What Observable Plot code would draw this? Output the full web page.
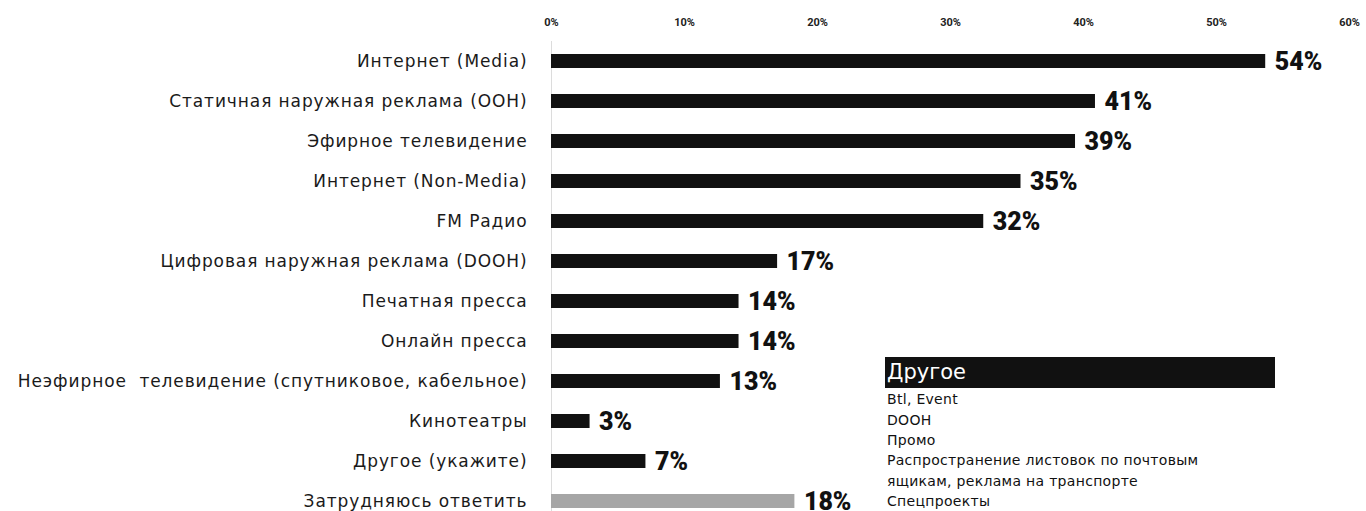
<!DOCTYPE html>
<html>
<head>
<meta charset="utf-8">
<script src="https://cdn.jsdelivr.net/npm/d3@7"></script>
<script src="https://cdn.jsdelivr.net/npm/@observablehq/plot@0.6"></script>
<style>
  html, body { margin: 0; padding: 0; background: #fff; }
  #wrap { position: relative; width: 1366px; height: 511px; overflow: hidden; }
  #note { position: absolute; left: 885px; top: 357px; width: 390px; font-family: "DejaVu Sans", sans-serif; color: #111; }
  #note .head { background: #111; color: #fff; font-size: 21px; line-height: 31px; height: 31px; padding-left: 2px; }
  #note .item { font-size: 14px; letter-spacing: 0.3px; padding-left: 2px; white-space: nowrap; }
</style>
</head>
<body>
<div id="wrap"></div>
<script>
const categories = [
  "Интернет (Media)",
  "Статичная наружная реклама (OOH)",
  "Эфирное телевидение",
  "Интернет (Non-Media)",
  "FM Радио",
  "Цифровая наружная реклама (DOOH)",
  "Печатная пресса",
  "Онлайн пресса",
  "Неэфирное  телевидение (спутниковое, кабельное)",
  "Кинотеатры",
  "Другое (укажите)",
  "Затрудняюсь ответить"
];
const values = [53.7, 40.9, 39.4, 35.3, 32.5, 17.0, 14.1, 14.1, 12.7, 2.9, 7.1, 18.3];
const valueLabels = ["54%", "41%", "39%", "35%", "32%", "17%", "14%", "14%", "13%", "3%", "7%", "18%"];
const unsureCategory = "Затрудняюсь ответить";
const xTicks = [0, 10, 20, 30, 40, 50, 60];
const otherTitle = "Другое";
const otherItems = [
  "Btl, Event",
  "DOOH",
  "Промо",
  "Распространение листовок по почтовым",
  "ящикам, реклама на транспорте",
  "Спецпроекты"
];
const otherItemTops = [391, 412, 432, 452, 473, 493];

const data = categories.map((c, i) => ({category: c, value: values[i], label: valueLabels[i], unsure: c === unsureCategory}));

const chart = Plot.plot({
  width: 1366,
  height: 511,
  marginLeft: 551,
  marginRight: 17,
  marginTop: 41,
  marginBottom: 0,
  style: {fontFamily: "Roboto, sans-serif", color: "#1a1a1a", background: "#fff"},
  x: {domain: [0, 60], axis: null, label: null},
  y: {type: "band", domain: categories, range: [41, 521], paddingInner: 0.65, paddingOuter: 0.325, axis: null, label: null},
  marks: [
    Plot.ruleX([0], {stroke: "#dcdcdc", strokeWidth: 1}),
    Plot.barX(data, {y: "category", x: "value", fill: d => d.unsure ? "#a6a6a6" : "#111111"}),
    Plot.text(data, {y: "category", x: "value", text: "label", dx: 9, dy: 0, textAnchor: "start", fontSize: 25, fontWeight: 900, fill: "#111"}),
    Plot.axisX({anchor: "top", label: null, ticks: xTicks, tickSize: 0, tickPadding: 16, tickFormat: d => d + "%", fontSize: 11, fontWeight: "bold", fill: "#222"}),
    Plot.axisY({anchor: "left", label: null, tickSize: 0, tickPadding: 24, fontSize: 17, fontFamily: "DejaVu Sans", fill: "#1a1a1a"})
  ]
});

const wrap = document.getElementById("wrap");
wrap.appendChild(chart);
chart.querySelectorAll("text").forEach(t => t.setAttribute("xml:space", "preserve"));
chart.querySelectorAll("g[aria-label='y-axis tick label'] text").forEach(t => t.style.letterSpacing = "0.9px");

const note = document.createElement("div");
note.id = "note";
const head = document.createElement("div");
head.className = "head";
head.textContent = otherTitle;
note.appendChild(head);
wrap.appendChild(note);
otherItems.forEach((s, i) => {
  const d = document.createElement("div");
  d.className = "item";
  d.style.position = "absolute";
  d.style.top = (otherItemTops[i] - 357) + "px";
  d.textContent = s;
  note.appendChild(d);
});
</script>
</body>
</html>
